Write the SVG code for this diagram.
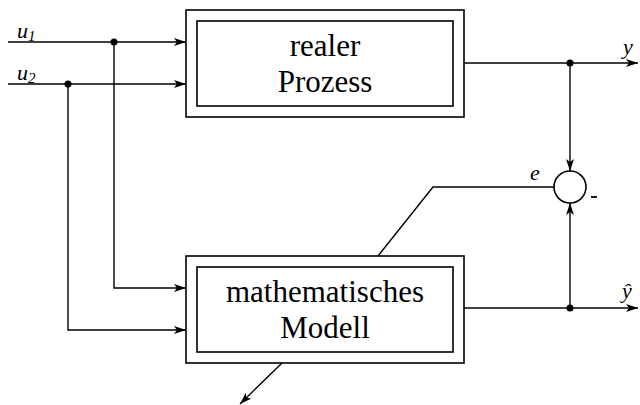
<svg xmlns="http://www.w3.org/2000/svg" width="640" height="405" viewBox="0 0 640 405">
<style>
.ln{fill:none;stroke:#000;stroke-width:1.4}
.bx{fill:#fff;stroke:#000;stroke-width:1.6}
.t{font-family:'Liberation Serif','Times New Roman','DejaVu Serif',serif;font-size:31px;fill:#000;text-anchor:middle}
.it{font-family:'Liberation Serif','Times New Roman','DejaVu Serif',serif;font-style:italic;fill:#000}
</style>
<defs>
<marker id="ah" viewBox="0 0 12 8" refX="12" refY="4" markerWidth="12" markerHeight="8" markerUnits="userSpaceOnUse" orient="auto">
<path d="M0,0 L12,4 L0,8 L3,4 Z" fill="#000"/>
</marker>
</defs>
<rect width="640" height="405" fill="#fff"/>
<g id="connectors">
<line class="ln" x1="8" y1="42" x2="186" y2="42" marker-end="url(#ah)"/>
<line class="ln" x1="8" y1="84" x2="186" y2="84" marker-end="url(#ah)"/>
<polyline class="ln" points="114,42 114,288 186,288" marker-end="url(#ah)"/>
<polyline class="ln" points="68,84 68,330 186,330" marker-end="url(#ah)"/>
<line class="ln" x1="464" y1="63" x2="638" y2="63" marker-end="url(#ah)"/>
<line class="ln" x1="570" y1="63" x2="570" y2="171" marker-end="url(#ah)"/>
<line class="ln" x1="464" y1="308" x2="638" y2="308" marker-end="url(#ah)"/>
<line class="ln" x1="570" y1="308" x2="570" y2="203" marker-end="url(#ah)"/>
<polyline class="ln" points="554,187 433,187 378,256"/>
<line class="ln" x1="282" y1="363" x2="240" y2="404" marker-end="url(#ah)"/>
<circle cx="114" cy="42" r="3.5" fill="#000"/>
<circle cx="68" cy="84" r="3.5" fill="#000"/>
<circle cx="570" cy="63" r="3.5" fill="#000"/>
<circle cx="570" cy="308" r="3.5" fill="#000"/>
</g>
<g id="prozess">
<rect class="bx" x="186" y="10" width="278" height="107"/>
<rect class="bx" x="197" y="21" width="256" height="85"/>
<text class="t" x="325" y="56">realer</text>
<text class="t" x="325" y="92">Prozess</text>
</g>
<g id="modell">
<rect class="bx" x="186" y="256" width="278" height="107"/>
<rect class="bx" x="197" y="267" width="256" height="85"/>
<text class="t" x="325" y="302">mathematisches</text>
<text class="t" x="325" y="338">Modell</text>
</g>
<g id="summer">
<circle cx="570" cy="187" r="16" fill="#fff" stroke="#000" stroke-width="1.6"/>
<text class="it" x="530" y="180" font-size="22">e</text>
<line x1="591" y1="197" x2="597" y2="197" stroke="#000" stroke-width="1.8"/>
</g>
<g id="labels">
<text class="it" x="17" y="38" font-size="22">u<tspan font-size="15" dy="3">1</tspan></text>
<text class="it" x="17" y="80" font-size="22">u<tspan font-size="15" dy="3">2</tspan></text>
<text class="it" x="623" y="54" font-size="22">y</text>
<text class="it" x="622" y="298" font-size="22">ŷ</text>
</g>
</svg>
